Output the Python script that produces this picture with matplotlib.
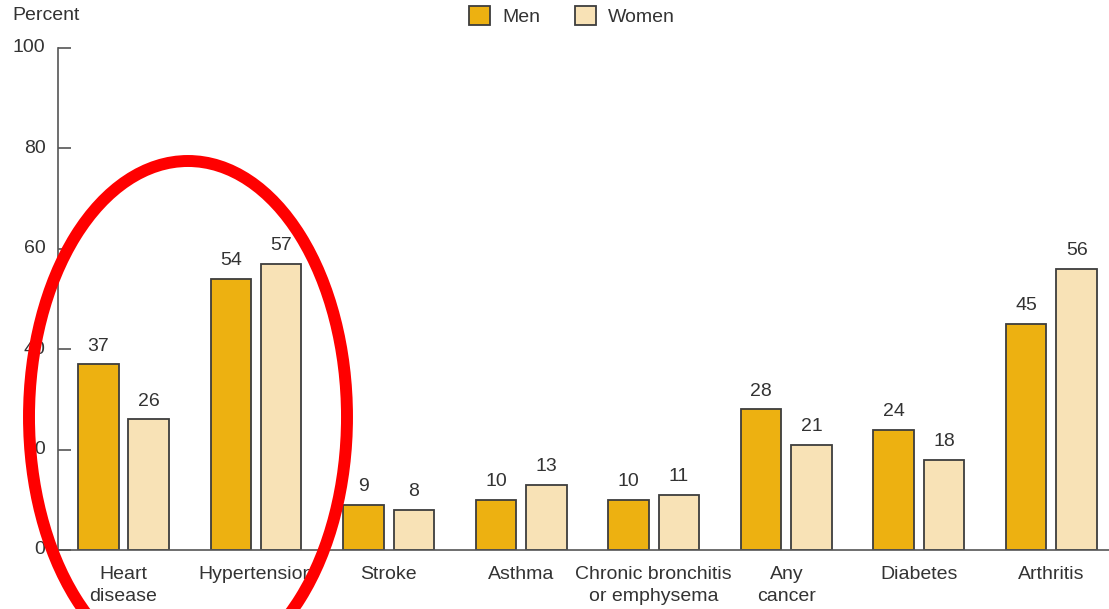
import matplotlib
matplotlib.use("Agg")
import numpy as np
import matplotlib.pyplot as plt
from matplotlib.patches import Patch, Ellipse

plt.rcParams['font.family'] = ['Liberation Sans', 'DejaVu Sans']

categories = ["Heart\ndisease", "Hypertension", "Stroke", "Asthma",
              "Chronic bronchitis\nor emphysema", "Any\ncancer", "Diabetes", "Arthritis"]
men = [37, 54, 9, 10, 10, 28, 24, 45]
women = [26, 57, 8, 13, 11, 21, 18, 56]
yticks = [0, 20, 40, 60, 80, 100]

men_color = "#EDB111"
women_color = "#F8E2B6"
edge = "#3d3d3d"
text_color = "#333333"
fs = 14

fig = plt.figure(figsize=(11.09, 6.09), dpi=100)
ax = fig.add_axes([58 / 1109, 1 - 550 / 609, 1 - 58 / 1109, 502 / 609])

x = np.arange(len(categories))
w = 0.305
off = 0.19
b1 = ax.bar(x - off, men, w, color=men_color, edgecolor=edge, linewidth=1.3)
b2 = ax.bar(x + off, women, w, color=women_color, edgecolor=edge, linewidth=1.3)

for bars, vals in ((b1, men), (b2, women)):
    for r, v in zip(bars, vals):
        ax.annotate(str(v), (r.get_x() + r.get_width() / 2, v),
                    xytext=(0, 7), textcoords="offset points",
                    ha="center", va="bottom", fontsize=fs, color=text_color)

ax.set_xlim(-0.494, 7.434)
ax.set_ylim(0, 100)
ax.set_yticks(yticks)
ax.set_xticks(x)
ax.set_xticklabels(categories, fontsize=fs, color=text_color, linespacing=1.4)
ax.tick_params(axis="x", length=0, pad=11.5)
ax.tick_params(axis="y", direction="in", length=9, width=1.2, color="#555555",
               labelsize=fs, labelcolor=text_color, pad=9)
for lab in ax.get_yticklabels():
    lab.set_verticalalignment("center")

for s in ("top", "right"):
    ax.spines[s].set_visible(False)
for s in ("left", "bottom"):
    ax.spines[s].set_color("#555555")
    ax.spines[s].set_linewidth(1.2)

fig.text(12 / 1109, 1 - 16 / 609, "Percent", fontsize=fs, color=text_color,
         ha="left", va="center")

handles = [Patch(facecolor=men_color, edgecolor=edge, linewidth=1.3, label="Men"),
           Patch(facecolor=women_color, edgecolor=edge, linewidth=1.3, label="Women")]
leg = fig.legend(handles=handles, loc="center", bbox_to_anchor=(572 / 1109, 1 - 16 / 609),
                 ncol=2, frameon=False, fontsize=fs, handlelength=1.1, handleheight=1.1,
                 handletextpad=0.6, columnspacing=1.8)
for t in leg.get_texts():
    t.set_color(text_color)

# red ellipse highlight (figure pixels)
ell = Ellipse((188, 609 - 417), 2 * 159, 2 * 256, fill=False,
              edgecolor="#ff0000", linewidth=8.6)
ell.set_transform(matplotlib.transforms.IdentityTransform())
fig.patches.append(ell)

fig.savefig("out.png", dpi=100)
